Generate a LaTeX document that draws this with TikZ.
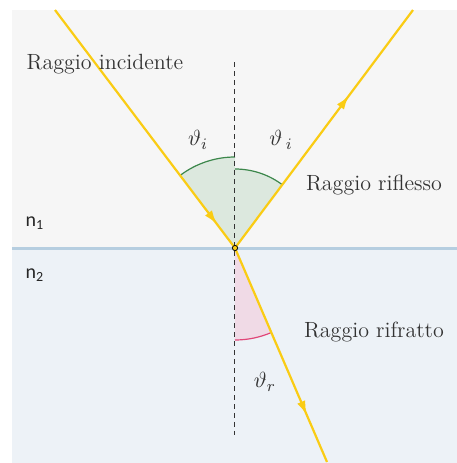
\documentclass[tikz,border=0pt]{standalone}
\usepackage{fontspec}
\newfontfamily\labelsans{Carlito}
\usetikzlibrary{arrows.meta,calc,decorations.markings}
\definecolor{upperbg}{RGB}{246,246,246}
\definecolor{lowerbg}{RGB}{237,242,247}
\definecolor{iface}{RGB}{182,206,224}
\definecolor{ray}{RGB}{250,204,20}
\definecolor{greenline}{RGB}{60,135,75}
\definecolor{greenfill}{RGB}{220,232,222}
\definecolor{pinkline}{RGB}{225,70,120}
\definecolor{pinkfill}{RGB}{240,218,230}
\begin{document}
\begin{tikzpicture}[x=0.5pt,y=0.5pt,
  raystyle/.style={draw=ray, line width=1.1pt},
  tipat/.style={postaction={decorate, decoration={markings,
     mark=at position #1 with {\arrow[ray]{Latex[length=7pt,width=4.4pt]}}}}},
  lbl/.style={font=\fontsize{11}{13}\selectfont, text=black!80},
  nlbl/.style={font=\labelsans\fontsize{10}{12}\selectfont, text=black!85},
  anglbl/.style={font=\fontsize{11}{13}\selectfont, text=black!80}]
\useasboundingbox (0,0) rectangle (457,463);
% media
\fill[upperbg] (12,215) rectangle (457,453);
\fill[lowerbg] (12,0) rectangle (457,215);
\coordinate (O) at (235,215);
\coordinate (I) at (55,453);
\coordinate (R) at (413,453);
\coordinate (T) at (327,1);
\coordinate (Ntop) at (235,401);
\coordinate (Nbot) at (235,28);
\coordinate (IL) at (12,215);
\coordinate (IR) at (457,215);
% angle sectors
\fill[greenfill] (O) -- ($(O)+(127.1:91)$) arc[start angle=127.1, end angle=90, radius=91] -- cycle;
\fill[greenfill] (O) -- ($(O)+(52.9:79)$) arc[start angle=52.9, end angle=90, radius=79] -- cycle;
\fill[pinkfill] (O) -- ($(O)+(-90:92)$) arc[start angle=-90, end angle=-66.7, radius=92] -- cycle;
\draw[greenline, line width=0.6pt] ($(O)+(127.1:91)$) arc[start angle=127.1, end angle=90, radius=91];
\draw[greenline, line width=0.6pt] ($(O)+(52.9:79)$) arc[start angle=52.9, end angle=90, radius=79];
\draw[pinkline, line width=0.6pt] ($(O)+(-90:92)$) arc[start angle=-90, end angle=-66.7, radius=92];
% interface
\draw[iface, line width=1.5pt] (IL) -- (IR);
% normal
\draw[black!80, line width=0.5pt, dash pattern=on 2.5pt off 2pt] (Ntop) -- (Nbot);
% rays
\draw[raystyle, tipat=0.90] (I) -- (O);
\draw[raystyle, tipat=0.64] (O) -- (R);
\draw[raystyle, tipat=0.78] (O) -- (T);
\filldraw[fill=ray, draw=black, line width=0.4pt] (O) circle[radius=2.6];
% labels
\node[lbl] (linc) at (105,399) {Raggio incidente};
\node[lbl] (lrif) at (374,278) {Raggio riflesso};
\node[lbl] (lrifr) at (374,131) {Raggio rifratto};
\node[nlbl] (n1) at (35,240) {n\textsubscript{1}};
\node[nlbl] (n2) at (35,188) {n\textsubscript{2}};
\node[anglbl] (ti1) at (198,323) {$\vartheta_i$};
\node[anglbl] (ti2) at (281,323) {$\vartheta\,{}_i$};
\node[anglbl] (tr) at (265,81) {$\vartheta_r$};
\end{tikzpicture}
\end{document}
